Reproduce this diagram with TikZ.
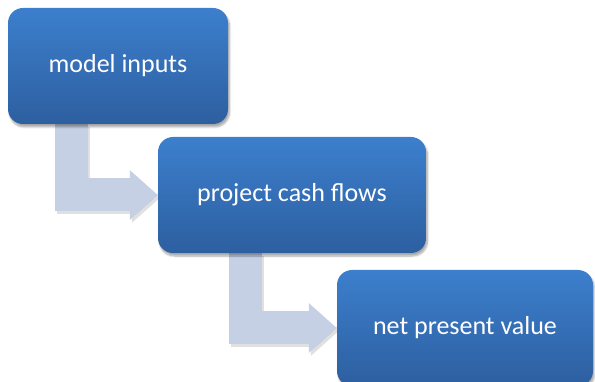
\documentclass[tikz,border=0pt]{standalone}
\usepackage{fontspec}
\setmainfont{Carlito}
\usetikzlibrary{arrows.meta,calc,backgrounds,shadows.blur}
\definecolor{azulclaro}{RGB}{60,127,205}
\definecolor{azuloscuro}{RGB}{45,95,160}
\definecolor{codogris}{RGB}{197,208,228}

\begin{document}
\begin{tikzpicture}[x=1pt, y=-1pt,
        etapa/.style={rounded corners=15pt, minimum height=116pt,
        top color=azulclaro, bottom color=azuloscuro, text=white,
        font=\fontsize{26}{30}\selectfont,
        blur shadow={shadow xshift=1.5pt, shadow yshift=-3pt,
        shadow opacity=35, shadow blur steps=6}},
        codo/.style={line width=33pt, draw=codogris,
        -{Triangle[width=48pt, length=28pt]}},
        codosombra/.style={codo, draw=black, opacity=0.12,
        transform canvas={shift={(2pt,-3pt)}}}
    ]
        \useasboundingbox (0,0) rectangle (595,382);
        \node[etapa, minimum width=220pt] (inputs) at (118,66) {model inputs};
        \node[etapa, minimum width=268pt] (flows) at (292,195) {project cash flows};
        \node[etapa, minimum width=256pt] (npv) at (465,328) {net present value};
        \begin{pgfonlayer}{background}
            \draw[codosombra] ($(inputs.south)+(-47,0)$) |- (flows.west);
            \draw[codosombra] ($(flows.south)+(-47,0)$) |- (npv.west);
            \draw[codo] ($(inputs.south)+(-47,0)$) |- (flows.west);
            \draw[codo] ($(flows.south)+(-47,0)$) |- (npv.west);
        \end{pgfonlayer}
\end{tikzpicture}
\end{document}
